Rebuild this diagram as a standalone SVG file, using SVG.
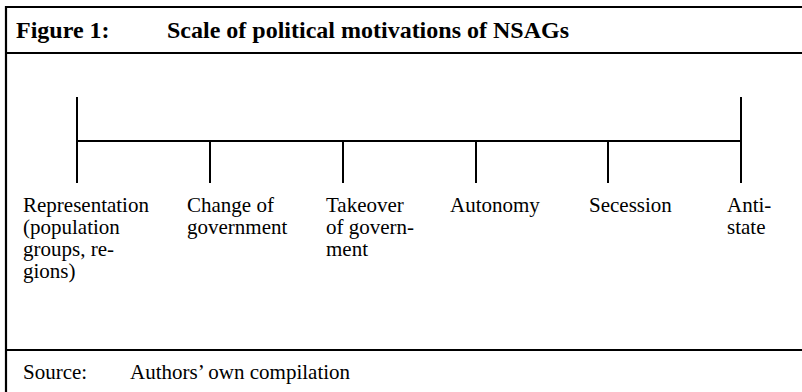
<svg xmlns="http://www.w3.org/2000/svg" width="802" height="392" viewBox="0 0 802 392">
<style>
.frame{stroke:#000;stroke-width:2.2;fill:none}
.axis{stroke:#000;stroke-width:2;fill:none}
text{font-family:'Liberation Serif','Times New Roman',Times,serif;fill:#000}
.t{font-size:21px}
.h{font-size:24px;font-weight:bold}
</style>
<rect width="802" height="392" fill="#fff"/>
<g id="frame">
<line class="frame" x1="6" y1="7" x2="802" y2="7"/>
<line class="frame" x1="6" y1="6" x2="6" y2="392"/>
<line class="frame" x1="6" y1="53" x2="802" y2="53"/>
<line class="frame" x1="6" y1="350" x2="802" y2="350"/>
</g>
<g id="title" font-family="Liberation Serif, serif">
<text class="h" x="16" y="38">Figure 1:</text>
<text class="h" x="167" y="38">Scale of political motivations of NSAGs</text>
</g>
<g id="connectors">
<line class="axis" x1="77" y1="141" x2="741" y2="141"/>
<line class="axis" x1="77" y1="97" x2="77" y2="183"/>
<line class="axis" x1="210" y1="141" x2="210" y2="183"/>
<line class="axis" x1="343" y1="141" x2="343" y2="183"/>
<line class="axis" x1="476" y1="141" x2="476" y2="183"/>
<line class="axis" x1="608" y1="141" x2="608" y2="183"/>
<line class="axis" x1="741" y1="97" x2="741" y2="183"/>
</g>
<g id="node-representation">
<text class="t" x="23" y="212">Representation</text>
<text class="t" x="23" y="234">(population</text>
<text class="t" x="23" y="256">groups, re-</text>
<text class="t" x="23" y="278">gions)</text>
</g>
<g id="node-change">
<text class="t" x="187" y="212">Change of</text>
<text class="t" x="187" y="234">government</text>
</g>
<g id="node-takeover">
<text class="t" x="326" y="212">Takeover</text>
<text class="t" x="326" y="234">of govern-</text>
<text class="t" x="326" y="256">ment</text>
</g>
<g id="node-autonomy">
<text class="t" x="450" y="212">Autonomy</text>
</g>
<g id="node-secession">
<text class="t" x="589" y="212">Secession</text>
</g>
<g id="node-antistate">
<text class="t" x="727" y="212">Anti-</text>
<text class="t" x="727" y="234">state</text>
</g>
<g id="source">
<text class="t" x="23" y="379">Source:</text>
<text class="t" x="130" y="379">Authors’ own compilation</text>
</g>
</svg>
